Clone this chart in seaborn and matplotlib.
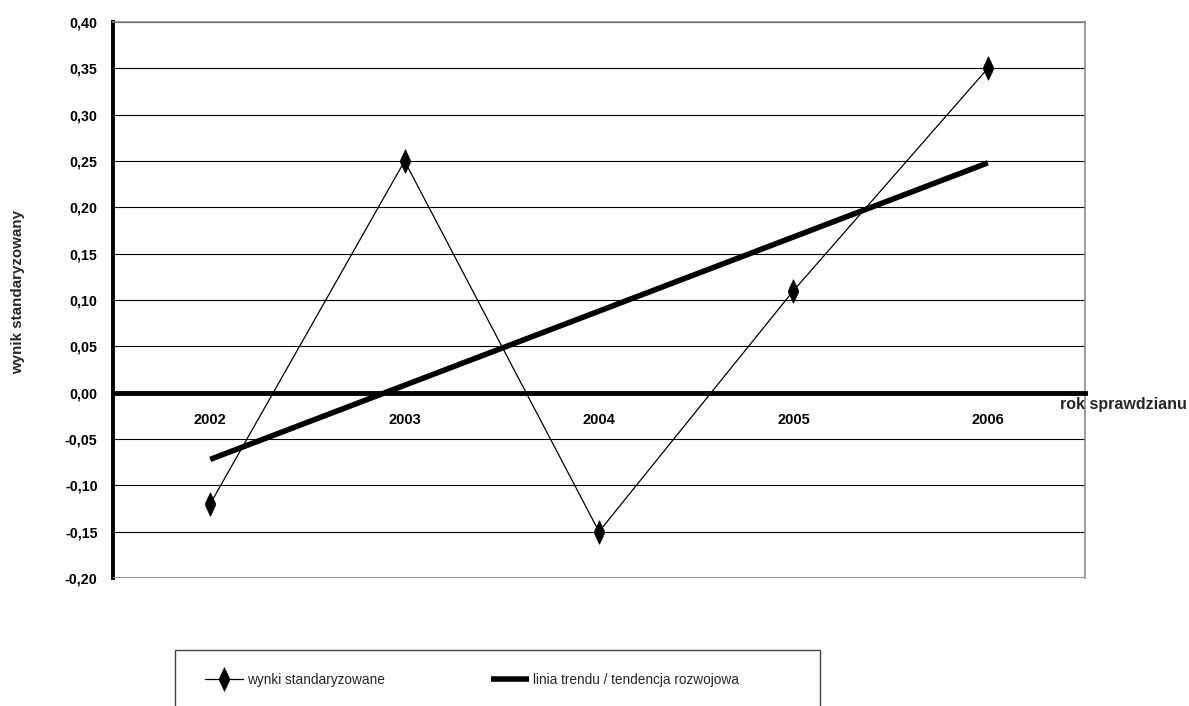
import numpy as np
import pandas as pd
import matplotlib
matplotlib.use("Agg")
import matplotlib.pyplot as plt
from matplotlib.path import Path
from matplotlib.lines import Line2D
from matplotlib.patches import Rectangle
import seaborn as sns

# Standardised results of the exam by year
years = ["2002", "2003", "2004", "2005", "2006"]
scores = [-0.12, 0.25, -0.15, 0.11, 0.35]

y_ticks = [-0.20, -0.15, -0.10, -0.05, 0.00, 0.05, 0.10, 0.15, 0.20, 0.25, 0.30, 0.35, 0.40]

series_label = "wynki standaryzowane"
trend_label = "linia trendu / tendencja rozwojowa"
x_title = "rok sprawdzianu"
y_title = "wynik standaryzowany"

sns.set_theme(style="white")
plt.rcParams["font.family"] = ["Liberation Sans", "DejaVu Sans"]

df = pd.DataFrame({"pos": np.arange(len(years)), "score": scores})

# least-squares trend over the yearly results
slope, intercept = np.polyfit(df["pos"], df["score"], 1)
df["trend"] = intercept + slope * df["pos"]

# tall, thin diamond marker
diamond = Path([(0, 1), (0.42, 0.1), (0.42, -0.1), (0, -1), (-0.42, -0.1), (-0.42, 0.1), (0, 1)],
               [Path.MOVETO, Path.LINETO, Path.LINETO, Path.LINETO, Path.LINETO, Path.LINETO, Path.CLOSEPOLY])

fig = plt.figure(figsize=(11.89, 7.06), dpi=100)
ax = fig.add_axes([113 / 1189, 1 - 578 / 706, (1085 - 113) / 1189, (578 - 22) / 706])

sns.lineplot(data=df, x="pos", y="score", ax=ax, color="black", linewidth=0.9,
             marker=diamond, markersize=17, markerfacecolor="black",
             markeredgecolor="black", markeredgewidth=0.5, zorder=4)
sns.lineplot(data=df, x="pos", y="trend", ax=ax, color="black", linewidth=4.0,
             solid_capstyle="butt", zorder=3)

ax.set_xlim(-0.5, len(years) - 0.5)
ax.set_ylim(-0.20, 0.40)
ax.set_xlabel("")
ax.set_ylabel("")

# horizontal gridlines
ax.set_yticks(y_ticks)
ax.set_yticklabels([f"{v:.2f}".replace(".", ",") for v in y_ticks],
                   fontsize=10.3, fontweight="bold")
ax.yaxis.grid(True, color="black", linewidth=0.8)
ax.xaxis.grid(False)
ax.set_axisbelow(True)
ax.tick_params(axis="y", direction="out", length=4, width=2.2, pad=7, colors="black")

# category axis crossing at zero
ax.spines["bottom"].set_position(("data", 0))
ax.spines["bottom"].set_linewidth(3.5)
ax.spines["bottom"].set_color("black")
ax.spines["left"].set_linewidth(2.8)
ax.spines["left"].set_color("black")
for side in ("top", "right"):
    ax.spines[side].set_visible(True)
    ax.spines[side].set_color("#8c8c8c")
    ax.spines[side].set_linewidth(1.2)
ax.axhline(-0.20, color="#8c8c8c", linewidth=1.4, zorder=2.6)

ax.set_xticks(np.arange(len(years)))
ax.set_xticklabels(years, fontsize=10.5, fontweight="bold")
ax.tick_params(axis="x", which="major", length=0, pad=15, colors="black")
ax.set_xticks(np.arange(len(years) - 1) + 0.5, minor=True)
ax.tick_params(axis="x", which="minor", direction="out", length=4, width=2, colors="black")

fig.text(1060 / 1189, 1 - 405 / 706, x_title, fontsize=11.5, fontweight="bold",
         ha="left", va="center")
fig.text(18 / 1189, 1 - 292 / 706, y_title, fontsize=10.9, fontweight="bold",
         rotation=90, ha="center", va="center")

# legend box running off the bottom edge
fig.patches.append(Rectangle((175 / 1189, -0.05), (820 - 175) / 1189, (706 - 650) / 706 + 0.05,
                             transform=fig.transFigure, fill=False,
                             edgecolor="#444444", linewidth=1.0))
handles = [
    Line2D([], [], color="black", linewidth=0.9, marker=diamond, markersize=17,
           markerfacecolor="black", markeredgecolor="black", markeredgewidth=0.5),
    Line2D([], [], color="black", linewidth=4.0, solid_capstyle="butt"),
]
fig.legend(handles, [series_label, trend_label], loc="center left",
           bbox_to_anchor=(205 / 1189, 1 - 680 / 706), ncol=2, frameon=False,
           borderpad=0, borderaxespad=0, handlelength=2.8, handletextpad=0.3,
           columnspacing=7.8, prop={"size": 9.8})

fig.savefig("out.png", dpi=100)
